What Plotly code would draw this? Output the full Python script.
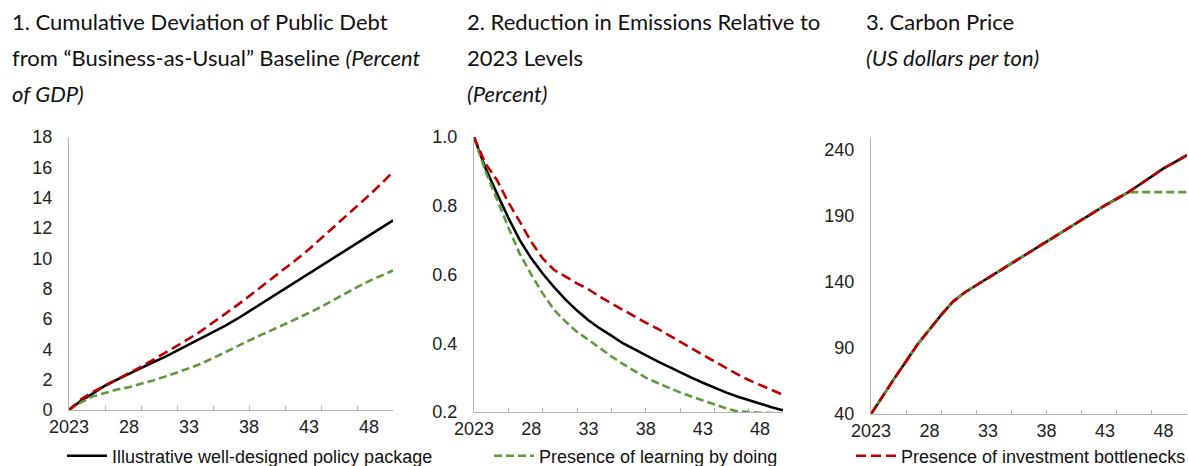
import plotly.graph_objects as go

years = list(range(2023, 2051))

# Panel 1: cumulative deviation of public debt (percent of GDP)
debt_base = [0, 0.6, 1.1, 1.6, 2.0, 2.4, 2.8, 3.15, 3.5, 3.9, 4.3, 4.7, 5.1, 5.55,
             6.0, 6.5, 7.0, 7.5, 8.0, 8.5, 9.05, 9.55, 10.05, 10.5, 11.0, 11.5, 12.0, 12.5]
debt_learn = [0, 0.5, 0.9, 1.15, 1.35, 1.5, 1.7, 1.95, 2.2, 2.45, 2.75, 3.05, 3.4, 3.8,
              4.2, 4.6, 4.95, 5.3, 5.65, 6.05, 6.4, 6.8, 7.25, 7.7, 8.1, 8.5, 8.85, 9.2]
debt_bottle = [0, 0.7, 1.2, 1.6, 2.0, 2.4, 2.85, 3.3, 3.75, 4.2, 4.7, 5.2, 5.75, 6.3,
               6.9, 7.5, 8.1, 8.7, 9.3, 9.95, 10.6, 11.3, 12.0, 12.7, 13.4, 14.15, 14.9, 15.7]

# Panel 2: emissions relative to 2023 levels
em_base = [1.0, 0.91, 0.836, 0.765, 0.70, 0.647, 0.603, 0.563, 0.527, 0.495, 0.467, 0.443, 0.422, 0.40,
           0.383, 0.365, 0.348, 0.332, 0.315, 0.30, 0.285, 0.27, 0.257, 0.245, 0.234, 0.224, 0.214, 0.205]
em_learn = [1.0, 0.90, 0.82, 0.737, 0.66, 0.60, 0.545, 0.497, 0.463, 0.433, 0.41, 0.385, 0.362, 0.34,
            0.32, 0.30, 0.285, 0.27, 0.257, 0.245, 0.233, 0.222, 0.211, 0.202, 0.199, 0.198, 0.197, 0.196]
em_bottle = [1.0, 0.923, 0.875, 0.81, 0.754, 0.695, 0.647, 0.613, 0.594, 0.574, 0.557, 0.535, 0.516, 0.497,
             0.477, 0.46, 0.443, 0.425, 0.405, 0.385, 0.366, 0.347, 0.328, 0.31, 0.293, 0.278, 0.264, 0.25]

# Panel 3: carbon price (US dollars per ton)
cp_base = [40, 54, 67, 80, 93, 104, 115, 125, 132, 137.5, 143, 149, 154.5, 160,
           165.5, 171, 176.5, 182, 187.5, 193, 198, 203, 208, 214, 220, 226, 231, 236]
cp_learn = [40, 54, 67, 80, 93, 104, 115, 125, 132, 137.5, 143, 149, 154.5, 160,
            165.5, 171, 176.5, 182, 187.5, 193, 198, 203, 208, 208, 208, 208, 208, 208]
cp_bottle = cp_base[:]

series_names = ["Illustrative well-designed policy package",
                "Presence of learning by doing",
                "Presence of investment bottlenecks"]
colors = ["#000000", "#5f9a3c", "#c00000"]
dashes = ["solid", "8px,4px", "10px,5px"]
legend_widths = [372, 307, 280]

xtick_vals = [2023, 2028, 2033, 2038, 2043, 2048]
xtick_text = ["2023", "28", "33", "38", "43", "48"]

W, H = 1188, 466
def fx(px):
    return px / W
def fy(py):
    return 1 - py / H

panels = [
    dict(x=(69, 393), y=(137, 410), data=[debt_base, debt_learn, debt_bottle],
         yrange=[0, 18], ytick=dict(tickvals=list(range(0, 19, 2)))),
    dict(x=(474, 783), y=(137, 412), data=[em_base, em_learn, em_bottle],
         yrange=[0.2, 1.0], ytick=dict(tickvals=[0.2, 0.4, 0.6, 0.8, 1.0], tickformat=".1f")),
    dict(x=(871, 1187), y=(138, 414), data=[cp_base, cp_learn, cp_bottle],
         yrange=[40, 249], ytick=dict(tickvals=[40, 90, 140, 190, 240])),
]

fig = go.Figure()
tickfont = dict(family="Liberation Sans, Arial, sans-serif", size=18, color="#222222")
axis_gray = "#b4b4b4"

for i, p in enumerate(panels):
    n = i + 1
    xa = "x" if n == 1 else f"x{n}"
    ya = "y" if n == 1 else f"y{n}"
    for k in range(3):
        fig.add_trace(go.Scatter(
            x=years, y=p["data"][k], xaxis=xa, yaxis=ya, mode="lines",
            name=series_names[k], showlegend=(n == 1), legendwidth=legend_widths[k],
            line=dict(color=colors[k], width=2.6, dash=dashes[k]),
            hoverinfo="skip"))
    xkey = "xaxis" if n == 1 else f"xaxis{n}"
    ykey = "yaxis" if n == 1 else f"yaxis{n}"
    fig.layout[xkey] = dict(
        domain=[fx(p["x"][0]), fx(p["x"][1])], anchor=ya, range=[2023, 2050],
        tickvals=xtick_vals, ticktext=xtick_text, ticks="", showline=True,
        linecolor=axis_gray, linewidth=1, showgrid=False, zeroline=False,
        tickfont=tickfont, fixedrange=True, automargin=False)
    fig.layout[ykey] = dict(
        domain=[fy(p["y"][1]), fy(p["y"][0])], anchor=xa, range=p["yrange"],
        ticks="", showline=True, linecolor=axis_gray, linewidth=1,
        showgrid=False, zeroline=False, tickfont=tickfont, ticklabelstandoff=12,
        fixedrange=True, automargin=False, **p["ytick"])
    # overlay axis carrying the small inside tick marks every three years
    okey = f"xaxis{n + 3}"
    fig.layout[okey] = dict(
        overlaying=xa, anchor=ya, range=[2023, 2050], tick0=2023, dtick=3,
        ticks="inside", ticklen=4, tickcolor=axis_gray, tickwidth=1,
        showticklabels=False, showline=False, showgrid=False, zeroline=False,
        fixedrange=True, automargin=False)
    fig.add_trace(go.Scatter(x=[None], y=[None], xaxis=f"x{n + 3}", yaxis=ya,
                             showlegend=False, hoverinfo="skip"))

title_font = dict(family="Lato, Carlito, Calibri, sans-serif", size=22, color="#111111")
titles = [
    (10, ["1. Cumulative Deviation of Public Debt",
          "from \u201cBusiness-as-Usual\u201d Baseline <i>(Percent</i>",
          "<i>of GDP)</i>"]),
    (465, ["2. Reduction in Emissions Relative to",
           "2023 Levels",
           "<i>(Percent)</i>"]),
    (864, ["3. Carbon Price",
           "<i>(US dollars per ton)</i>"]),
]
for x0, lines in titles:
    for j, t in enumerate(lines):
        fig.add_annotation(text=t, xref="paper", yref="paper", x=fx(x0),
                           y=fy(22 + 36 * j), xanchor="left", yanchor="middle",
                           showarrow=False, font=title_font, align="left")

fig.update_layout(
    width=W, height=H, margin=dict(l=0, r=0, t=0, b=0, autoexpand=False),
    paper_bgcolor="white", plot_bgcolor="white",
    showlegend=True,
    legend=dict(orientation="h", x=fx(62), y=fy(456), xanchor="left", yanchor="middle",
                font=dict(family="Liberation Sans, Arial, sans-serif", size=18, color="#111111"),
                itemwidth=40, bgcolor="rgba(0,0,0,0)", tracegroupgap=0),
)

fig.write_html("out.html", config={"displayModeBar": False},
               post_script="document.body.style.margin='0px';document.body.style.overflow='hidden';")
